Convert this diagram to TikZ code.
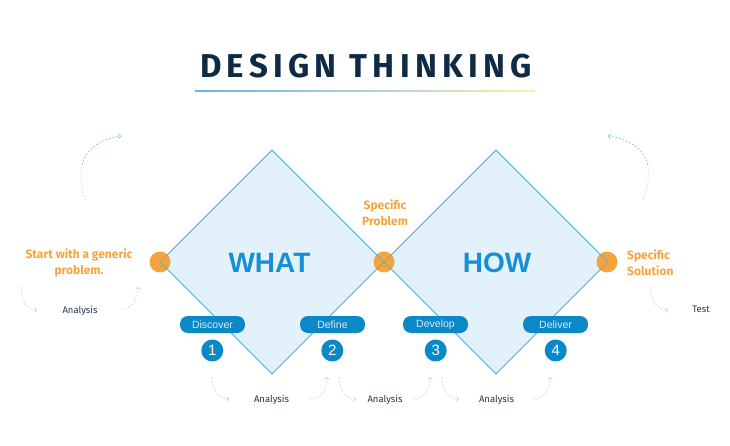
\documentclass[tikz,border=0pt]{standalone}
\usepackage{fontspec}
\setmainfont{Fira Sans}
\newfontfamily\arialfont{Liberation Sans}
\newfontfamily\titlefont[LetterSpace=16]{Fira Sans}
\usetikzlibrary{arrows.meta,shapes.geometric,calc}
\definecolor{navy}{HTML}{0E2A45}
\definecolor{bigblue}{HTML}{1690D2}
\definecolor{pillblue}{HTML}{0A88C8}
\definecolor{orangeT}{HTML}{F5A43C}
\definecolor{orangeC}{HTML}{F2A035}
\definecolor{dfill}{HTML}{E3F2FA}
\definecolor{dline}{HTML}{4AAAD9}
\definecolor{agray}{HTML}{CDD1D6}
\definecolor{txt}{HTML}{26374D}
\definecolor{arcblue}{HTML}{79B9EE}
\definecolor{arcgreen}{HTML}{CDEBA8}
\definecolor{ulblue}{HTML}{6AB0F0}
\definecolor{ulgreen}{HTML}{A6E8D0}
\definecolor{ulyellow}{HTML}{F0F5A8}
\tikzset{
  diam/.style={diamond, aspect=1, inner sep=0pt, minimum width=224pt, minimum height=224pt,
    fill=dfill, draw=dline, line width=0.8pt},
  diamline/.style={diamond, aspect=1, inner sep=0pt, minimum width=224pt, minimum height=224pt,
    draw=dline, line width=0.8pt, draw opacity=0.7},
  dot/.style={circle, fill=orangeC, fill opacity=0.95, minimum size=21pt, inner sep=0pt},
  pill/.style={rounded corners=8pt, fill=pillblue, minimum width=65pt, minimum height=17pt, inner sep=0pt,
    text=white!85!pillblue, font=\arialfont\fontsize{10.5}{11}\selectfont},
  num/.style={circle, fill=pillblue, minimum size=22pt, inner sep=0pt, text=white,
    font=\arialfont\fontsize{15}{15}\selectfont},
  lbl/.style={text=txt, font=\fontsize{9.5}{11}\selectfont, inner sep=0pt},
  otext/.style={text=orangeT, font=\bfseries\fontsize{12}{16}\selectfont, inner sep=0pt},
  bigword/.style={text=bigblue, font=\arialfont\bfseries\fontsize{28}{28}\selectfont, inner sep=0pt},
  garrow/.style={draw=agray, dashed, dash pattern=on 2pt off 1.6pt, line width=0.6pt,
    -{Straight Barb[length=2.2pt,width=4.5pt]}},
  arcdash/.style={dashed, dash pattern=on 2pt off 1.6pt, line width=0.6pt},
}
\begin{document}
\begin{tikzpicture}[x=1pt,y=-1pt]
\useasboundingbox[fill=white] (0,0) rectangle (730,446);

% title
\node[text=navy, font=\titlefont\bfseries\fontsize{33}{33}\selectfont, inner sep=0pt] (title) at (366,66) {DESIGN THINKING};
\shade[left color=ulblue, middle color=ulgreen, right color=ulyellow] (195,90.5) rectangle (535,91.5);

% diamonds
\node[diam] (what) at (272,262) {};
\node[diam] (how) at (496,262) {};
\node[bigword] (whatt) at (269.5,262.5) {WHAT};
\node[bigword] (howt) at (497,262.5) {HOW};

% orange dots
\node[dot] (d1) at (160,262) {};
\node[dot] (d2) at (384,262) {};
\node[dot] (d3) at (607,262) {};
\node[diamline] (whatl) at (what) {};
\node[diamline] (howl) at (how) {};

% orange texts
\node[otext, align=center] (start) at (79,263) {Start with a generic\\problem.};
\node[otext, align=center] (sprob) at (385,212.5) {Specific\\Problem};
\node[otext, align=left, anchor=west] (ssol) at (627,263) {Specific\\Solution};

% pills
\node[pill] (p1) at (212.5,324.5) {Discover};
\node[pill] (p2) at (332.5,324.5) {Define};
\node[pill] (p3) at (435.5,324.5) {Develop};
\node[pill] (p4) at (555.5,324.5) {Deliver};

% numbers
\node[num] (n1) at (212.3,350.5) {1};
\node[num] (n2) at (332.3,350.5) {2};
\node[num] (n3) at (435.7,350.5) {3};
\node[num] (n4) at (555.7,350.5) {4};

% analysis labels
\node[lbl] (a0) at (80,311) {Analysis};
\node[lbl] (a1) at (271.5,400) {Analysis};
\node[lbl] (a2) at (385,400) {Analysis};
\node[lbl] (a3) at (496.5,400) {Analysis};
\node[lbl] (test) at (701,309) {Test};

% gray dashed arrows (named end points)
\coordinate (l0s) at (21,287); \coordinate (l0e) at (37,310);
\coordinate (l1s) at (121,309); \coordinate (l1e) at (138,287);
\coordinate (r0s) at (650,287); \coordinate (r0e) at (668,310);
\coordinate (b1s) at (212,377); \coordinate (b1e) at (229,399);
\coordinate (b2s) at (310,399); \coordinate (b2e) at (327,377);
\coordinate (b3s) at (339,377); \coordinate (b3e) at (356,399);
\coordinate (b4s) at (413,399); \coordinate (b4e) at (430,377);
\coordinate (b5s) at (442,377); \coordinate (b5e) at (459,399);
\coordinate (b6s) at (533,399); \coordinate (b6e) at (550,377);

\foreach \s/\e in {l0s/l0e, r0s/r0e, b1s/b1e, b3s/b3e, b5s/b5e}{
  \draw[garrow] (\s) .. controls ($(\s)+(0,15)$) and ($(\e)+(-9,0)$) .. (\e);
}
\foreach \s/\e in {l1s/l1e, b2s/b2e, b4s/b4e, b6s/b6e}{
  \draw[garrow] (\s) .. controls ($(\s)+(10,0)$) and ($(\e)+(0,14)$) .. (\e);
}

% top arcs
\coordinate (tls) at (86,200); \coordinate (tlm) at (82,165); \coordinate (tle) at (121,136);
\draw[arcdash, draw=arcgreen] (tls) .. controls (81,190) and (80,176) .. (tlm);
\draw[arcdash, draw=arcblue, -{Straight Barb[length=2.2pt,width=4.5pt]}] (tlm) .. controls (85,150) and (100,139) .. (tle);
\coordinate (trs) at (643,200); \coordinate (trm) at (648,165); \coordinate (tre) at (608,136);
\draw[arcdash, draw=arcgreen] (trs) .. controls (648,190) and (649,176) .. (trm);
\draw[arcdash, draw=arcblue, -{Straight Barb[length=2.2pt,width=4.5pt]}] (trm) .. controls (645,150) and (630,139) .. (tre);
\end{tikzpicture}
\end{document}
